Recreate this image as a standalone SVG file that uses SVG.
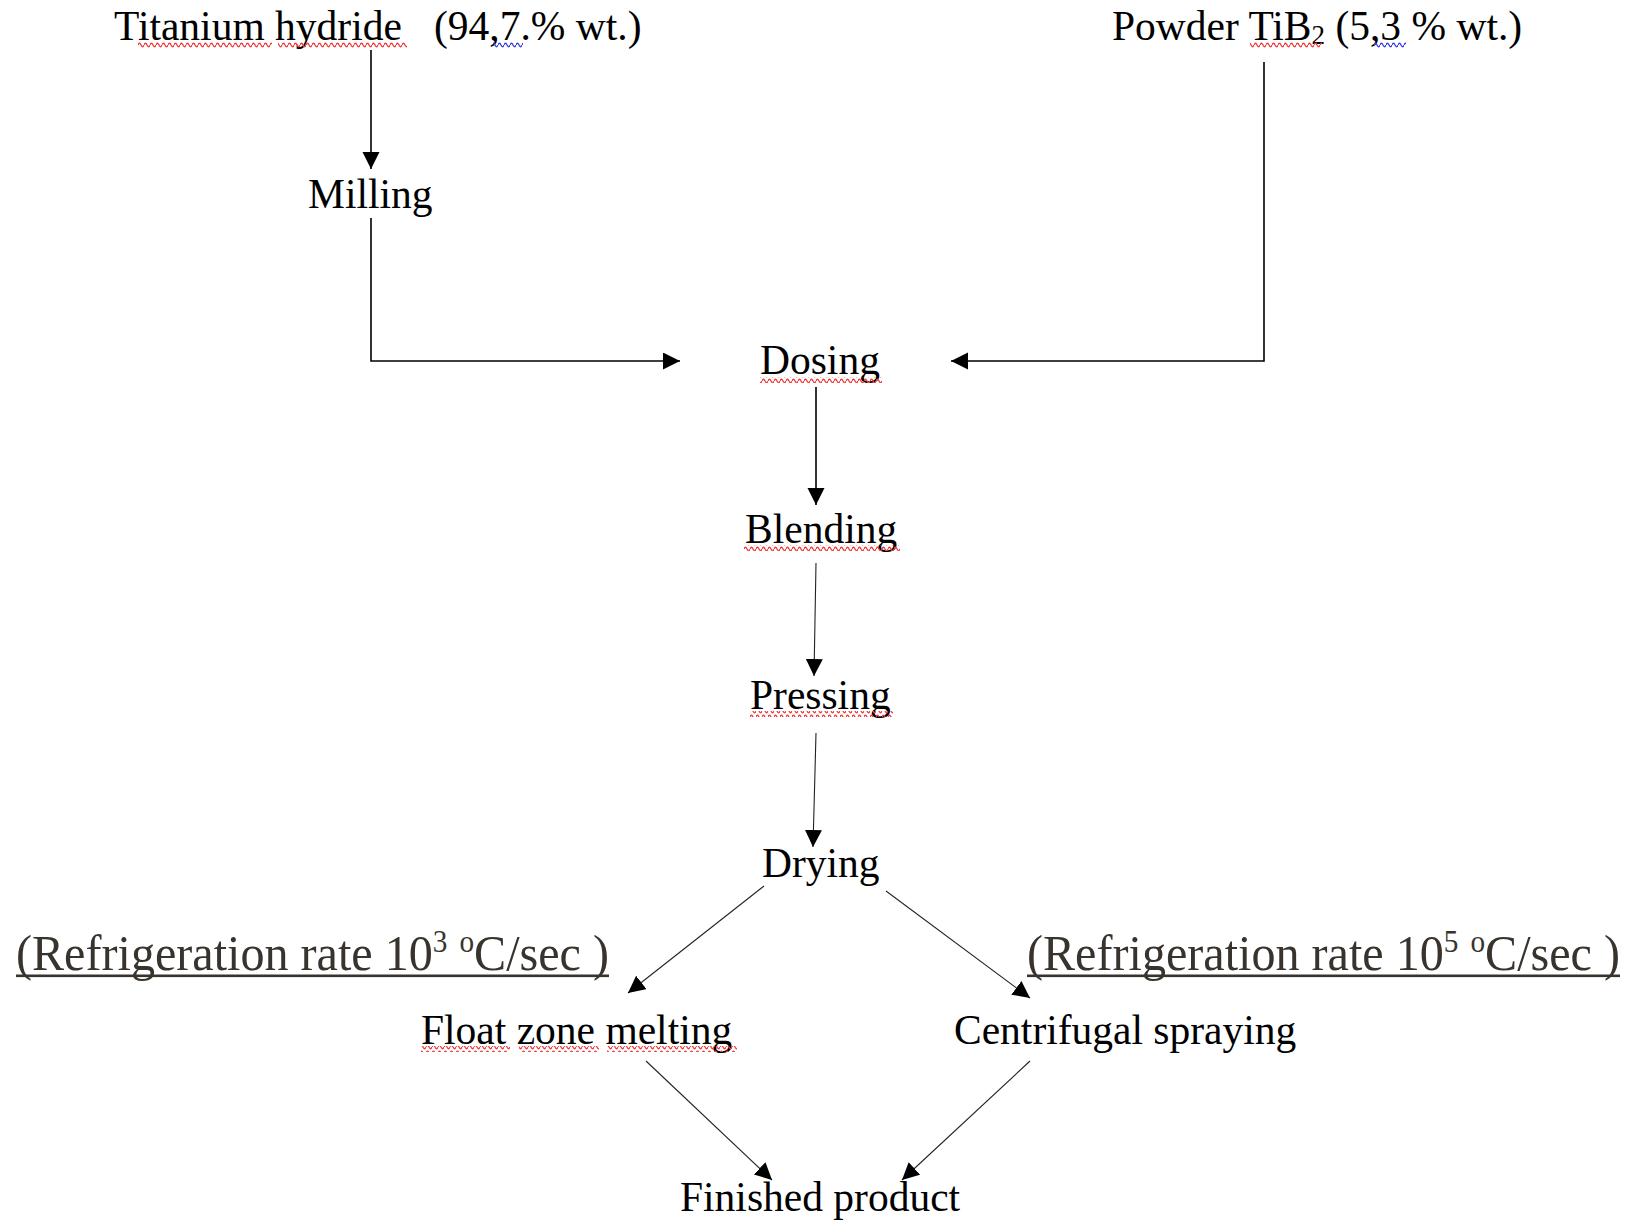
<svg xmlns="http://www.w3.org/2000/svg" width="1627" height="1220" viewBox="0 0 1627 1220">
<defs>
<style>
.t{font-family:"Liberation Serif","Times New Roman",serif;font-size:41.5px;fill:#000;}
.r{font-family:"Liberation Serif","Times New Roman",serif;font-size:51px;fill:#38342d;}
.c{fill:none;stroke:#000;stroke-width:1.6;}
.d{fill:none;stroke:#222;stroke-width:1.1;}
</style>
<marker id="ah" markerUnits="userSpaceOnUse" markerWidth="18" markerHeight="18" viewBox="0 0 18 18" refX="17" refY="8.5" orient="auto">
<path d="M0,0 L17,8.5 L0,17 z" fill="#000"/>
</marker>
<pattern id="wr" patternUnits="userSpaceOnUse" width="6" height="6" x="0" y="0">
<path d="M0,3 Q1.5,-0.5 3,3 T6,3" fill="none" stroke="#f03c3c" stroke-width="1.3"/>
</pattern>
<pattern id="wb" patternUnits="userSpaceOnUse" width="6" height="6" x="0" y="0">
<path d="M0,3 Q1.5,-0.5 3,3 T6,3" fill="none" stroke="#3c3ce8" stroke-width="1.3"/>
</pattern>
</defs>
<rect width="1627" height="1220" fill="#fff"/>

<g id="connectors">
<path class="c" d="M371,50 V169" marker-end="url(#ah)"/>
<path class="c" d="M371,218 V361 H680" marker-end="url(#ah)"/>
<path class="c" d="M1264,62 V361 H951" marker-end="url(#ah)"/>
<path class="c" d="M816,387 V505" marker-end="url(#ah)"/>
<path class="d" d="M816,563 L814,676" marker-end="url(#ah)"/>
<path class="d" d="M816,733 L813,847" marker-end="url(#ah)"/>
<path class="d" d="M764,886 L628,993" marker-end="url(#ah)"/>
<path class="d" d="M886,891 L1030,998" marker-end="url(#ah)"/>
<path class="d" d="M646,1061 L772,1180" marker-end="url(#ah)"/>
<path class="d" d="M1030,1061 L902,1180" marker-end="url(#ah)"/>
</g>

<g id="titanium-hydride">
<text class="t" x="114" y="40">Titanium hydride<tspan x="434">(94,7.% wt.)</tspan></text>
<rect x="138" y="42" width="134" height="6" fill="url(#wr)"/>
<rect x="278" y="42" width="129" height="6" fill="url(#wr)"/>
<rect x="493" y="42" width="30" height="6" fill="url(#wb)"/>
</g>

<g id="powder-tib2">
<text class="t" x="1112" y="40">Powder TiB<tspan font-size="27" dy="4">2</tspan><tspan dy="-4"> (5,3 % wt.)</tspan></text>
<rect x="1250" y="42" width="72" height="6" fill="url(#wr)"/>
<rect x="1374" y="42" width="32" height="6" fill="url(#wb)"/>
</g>

<g id="milling">
<text class="t" x="308" y="208">Milling</text>
</g>

<g id="dosing">
<text class="t" x="760" y="374">Dosing</text>
<rect x="760" y="377" width="122" height="6" fill="url(#wr)"/>
</g>

<g id="blending">
<text class="t" x="745" y="543">Blending</text>
<rect x="744" y="545" width="156" height="6" fill="url(#wr)"/>
</g>

<g id="pressing">
<text class="t" x="750" y="709">Pressing</text>
<rect x="750" y="711" width="143" height="6" fill="url(#wr)"/>
</g>

<g id="drying">
<text class="t" x="762" y="877">Drying</text>
</g>

<g id="rate-left">
<text class="r" x="16" y="970" textLength="593" lengthAdjust="spacingAndGlyphs">(Refrigeration rate 10<tspan font-size="31" dy="-18">3</tspan><tspan dy="18"> </tspan><tspan font-size="31" dy="-18">o</tspan><tspan dy="18">C/sec )</tspan></text>
<rect x="16" y="974.5" width="593" height="2.6" fill="#38342d"/>
</g>

<g id="rate-right">
<text class="r" x="1027" y="970" textLength="593" lengthAdjust="spacingAndGlyphs">(Refrigeration rate 10<tspan font-size="31" dy="-18">5</tspan><tspan dy="18"> </tspan><tspan font-size="31" dy="-18">o</tspan><tspan dy="18">C/sec )</tspan></text>
<rect x="1027" y="974.5" width="593" height="2.6" fill="#38342d"/>
</g>

<g id="float-zone-melting">
<text class="t" x="421" y="1044">Float zone melting</text>
<rect x="421" y="1046" width="89" height="6" fill="url(#wr)"/>
<rect x="519" y="1046" width="80" height="6" fill="url(#wr)"/>
<rect x="607" y="1046" width="130" height="6" fill="url(#wr)"/>
</g>

<g id="centrifugal-spraying">
<text class="t" x="954" y="1044">Centrifugal spraying</text>
</g>

<g id="finished-product">
<text class="t" x="680" y="1211">Finished product</text>
</g>
</svg>
